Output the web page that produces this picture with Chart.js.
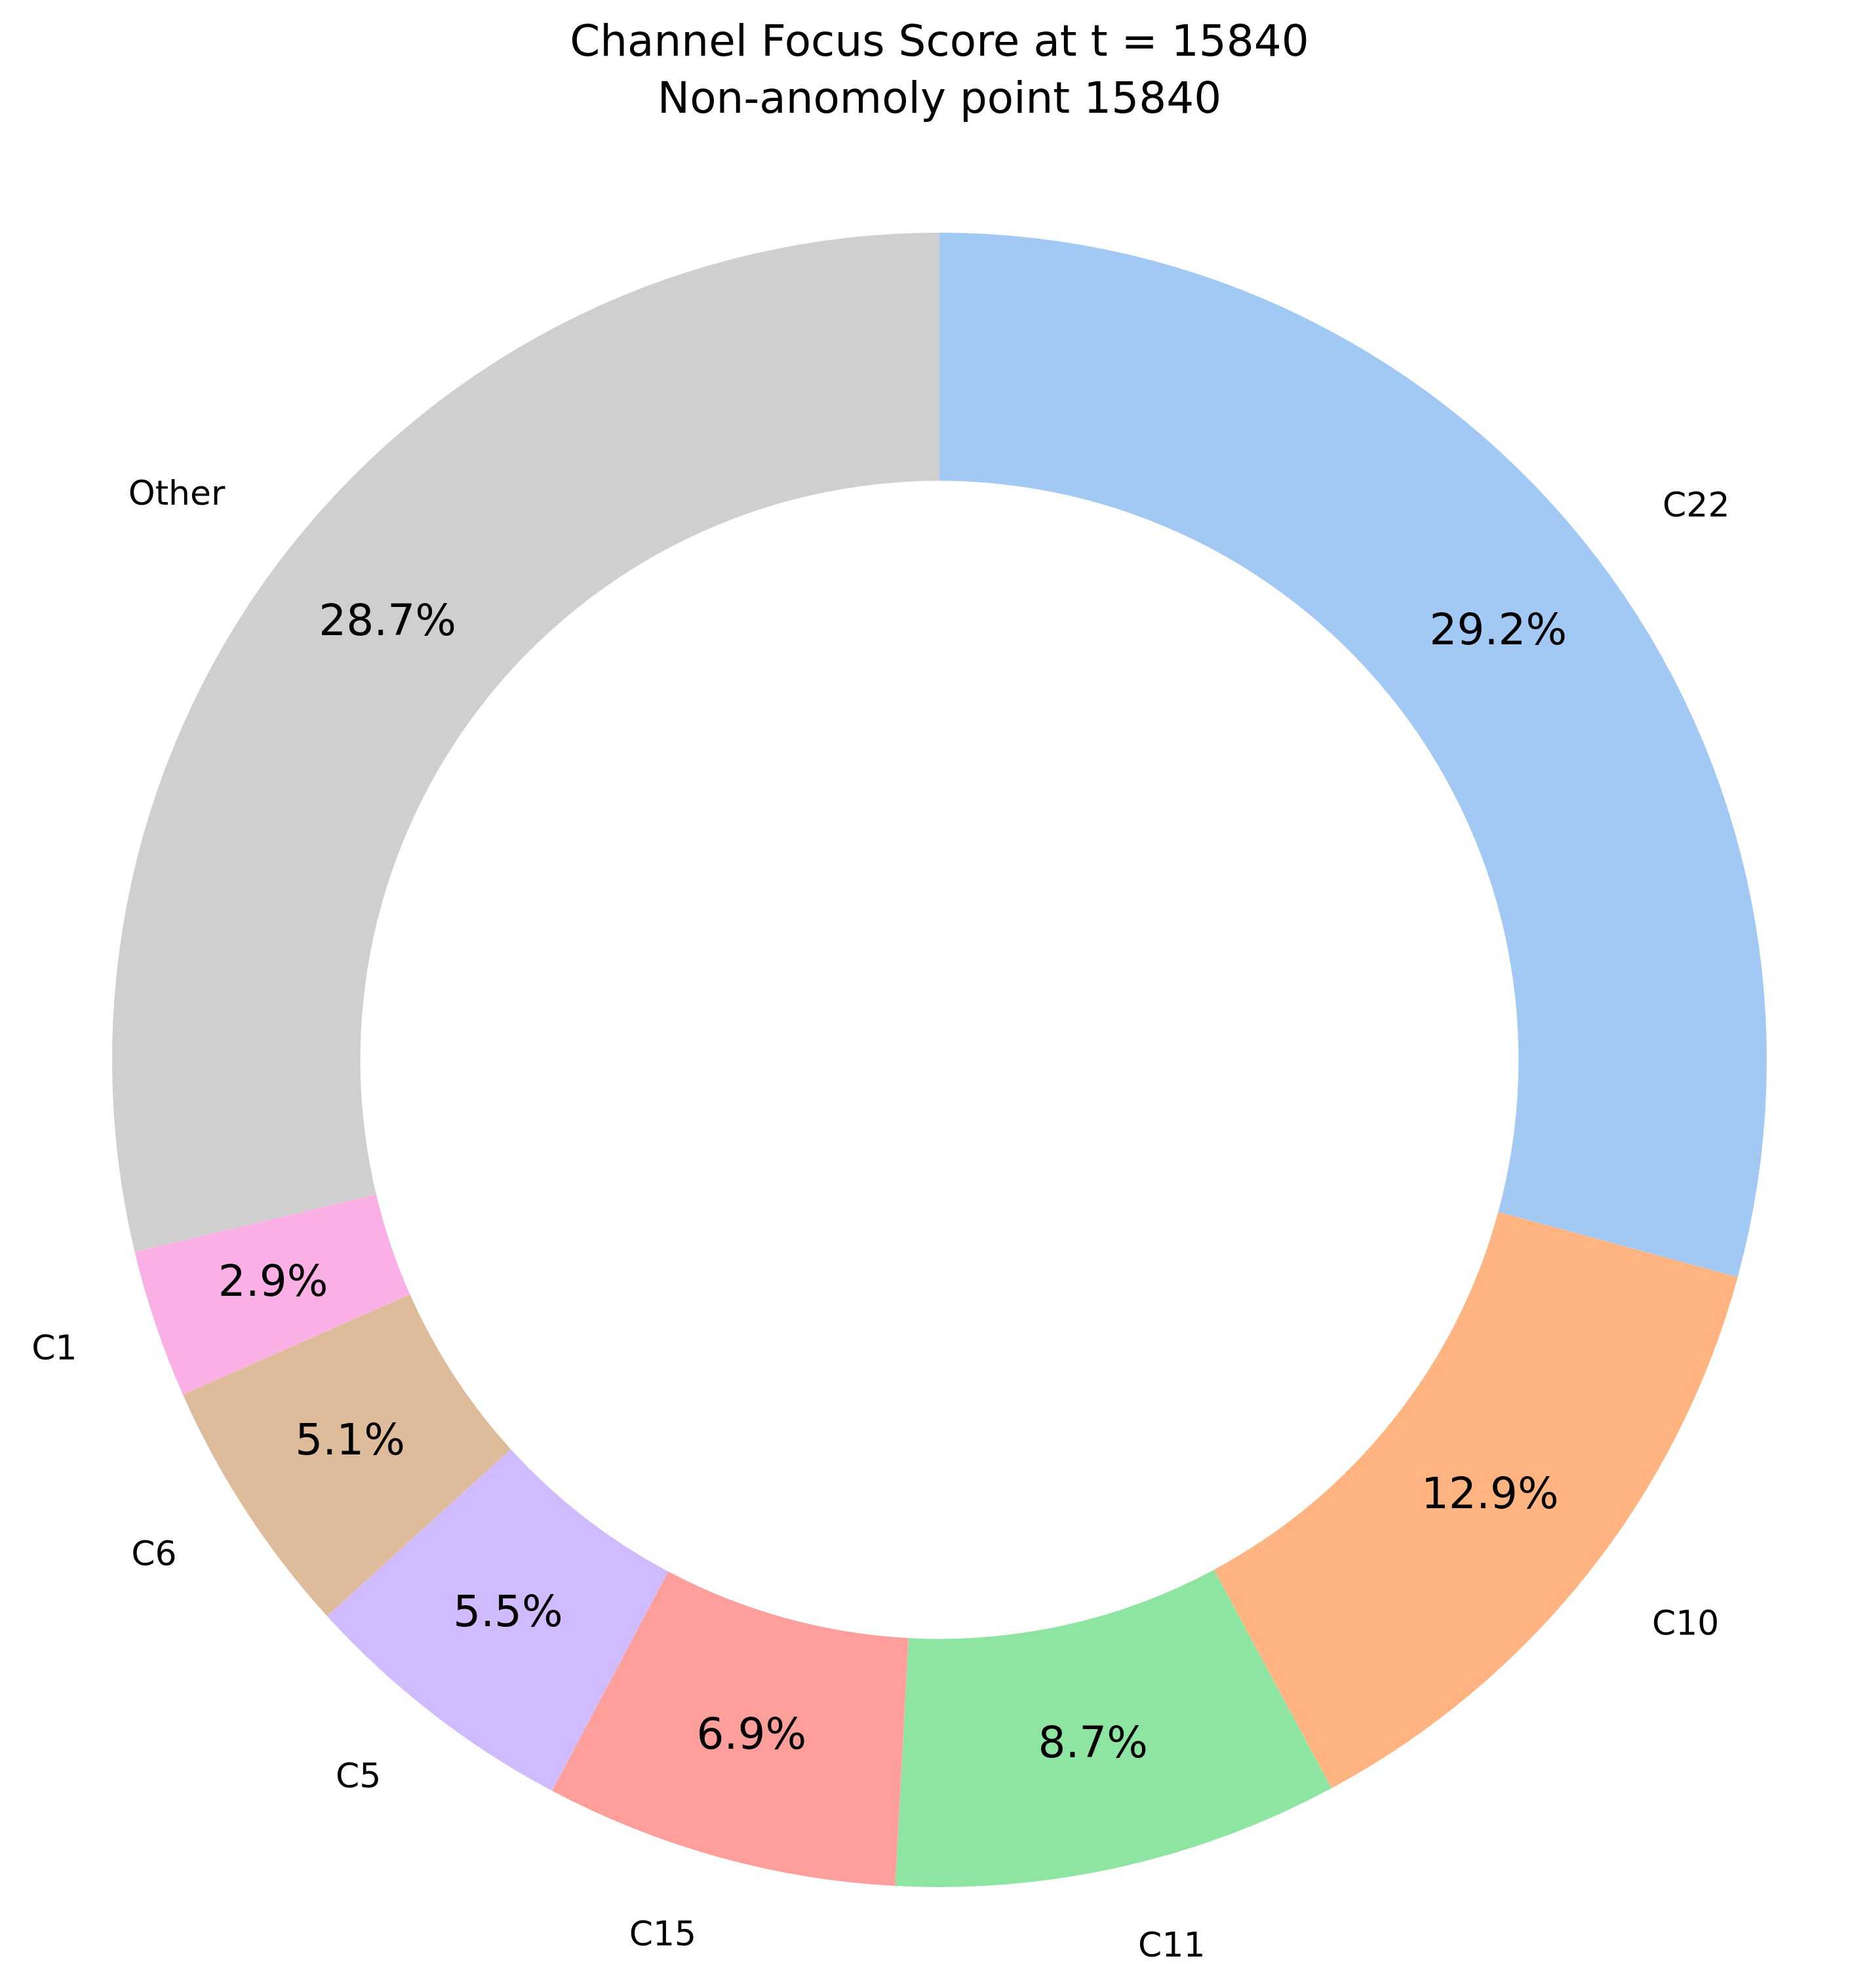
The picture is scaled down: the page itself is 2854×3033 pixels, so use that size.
<!DOCTYPE html>
<html>
<head>
<meta charset="utf-8">
<script src="https://cdn.jsdelivr.net/npm/chart.js@4/dist/chart.umd.min.js"></script>
<style>
  html, body { margin: 0; padding: 0; background: #fff; }
  #wrap { width: 2854px; height: 3033px; }
</style>
</head>
<body>
<div id="wrap"><canvas id="pie" width="2854" height="3033"></canvas></div>
<script>
const channels = ["C22", "C10", "C11", "C15", "C5", "C6", "C1", "Other"];
const shares = [29.2, 12.9, 8.7, 6.9, 5.5, 5.1, 2.9, 28.7];
const colours = ["#a1c9f4", "#ffb482", "#8de5a1", "#ff9f9b", "#d0bbff", "#debb9b", "#fab0e4", "#cfcfcf"];
const titleLines = ["Channel Focus Score at t = 15840", "Non-anomoly point 15840"];

// draws title, outside labels and percentages the way matplotlib does
const textPlugin = {
    id: "pieText",
    afterDraw(chart) {
        const ctx = chart.ctx;
        const arcs = chart.getDatasetMeta(0).data;
        ctx.save();
        ctx.fillStyle = "#000";
        ctx.textBaseline = "middle";

        ctx.textAlign = "center";
        ctx.font = "66px 'DejaVu Sans'";
        ctx.fillText(titleLines[0], 1433, 68);
        ctx.fillText(titleLines[1], 1433, 155);

        arcs.forEach((arc, i) => {
            const mid = (arc.startAngle + arc.endAngle) / 2;
            const R = arc.outerRadius;
            const cx = arc.x, cy = arc.y;

            ctx.font = "66px 'DejaVu Sans'";
            ctx.textAlign = "center";
            ctx.fillText(shares[i].toFixed(1) + "%",
                cx + Math.cos(mid) * R * 0.85, cy + Math.sin(mid) * R * 0.85);

            const lx = cx + Math.cos(mid) * R * 1.1;
            const ly = cy + Math.sin(mid) * R * 1.1;
            ctx.font = "52px 'DejaVu Sans'";
            ctx.textAlign = Math.cos(mid) >= 0 ? "left" : "right";
            ctx.fillText(channels[i], lx, ly);
        });
        ctx.restore();
    }
};

new Chart(document.getElementById("pie"), {
    type: "doughnut",
    data: {
        labels: channels,
        datasets: [{
            data: shares,
            backgroundColor: colours,
            borderWidth: 0
        }]
    },
    options: {
        responsive: false,
        animation: false,
        cutout: "70%",
        rotation: 0,
        layout: {
            padding: { left: 171, right: 159, top: 355, bottom: 154 }
        },
        plugins: {
            legend: { display: false },
            tooltip: { enabled: false },
            title: { display: false }
        }
    },
    plugins: [textPlugin]
});
</script>
</body>
</html>
